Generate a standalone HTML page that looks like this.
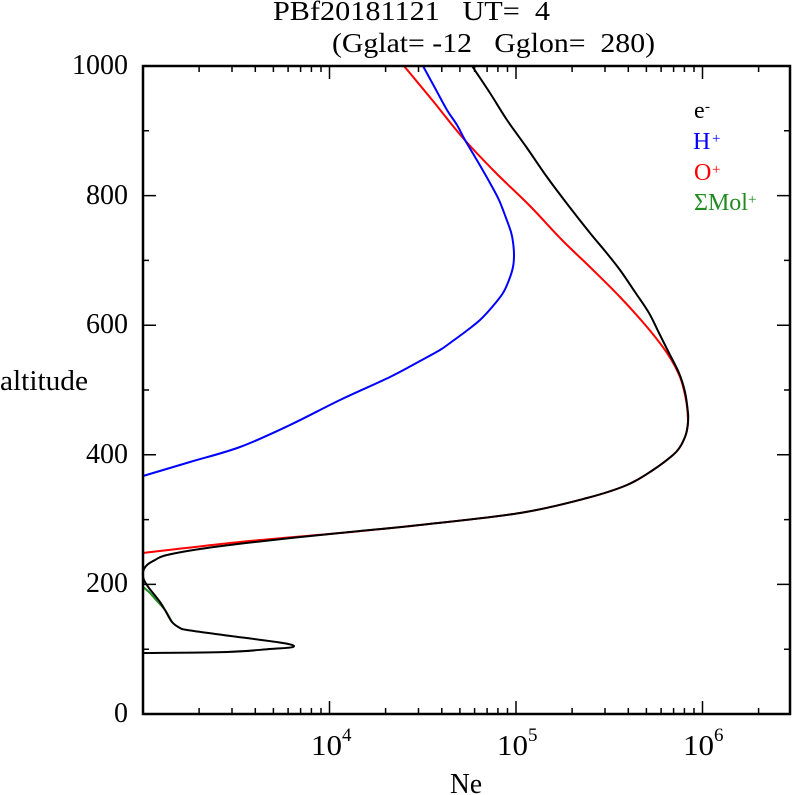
<!DOCTYPE html>
<html>
<head>
<meta charset="utf-8">
<style>
html,body{margin:0;padding:0;background:#fff;}
svg{display:block;}
text{font-family:"Liberation Serif","DejaVu Serif",serif;}
</style>
</head>
<body>
<svg id="chart" width="792" height="795" viewBox="0 0 792 795" xmlns="http://www.w3.org/2000/svg">
<rect width="792" height="795" fill="#fff"/>

<!-- Title -->
<text x="273" y="20" font-size="27" textLength="277" lengthAdjust="spacingAndGlyphs" xml:space="preserve">PBf20181121   UT=  4</text>
<text x="332" y="52" font-size="27" textLength="323" lengthAdjust="spacingAndGlyphs" xml:space="preserve">(Gglat= -12   Gglon=  280)</text>

<!-- Y labels -->
<g font-size="28" text-anchor="end">
<text x="128" y="74">1000</text>
<text x="128" y="204">800</text>
<text x="128" y="333">600</text>
<text x="128" y="463">400</text>
<text x="128" y="592">200</text>
<text x="128" y="722">0</text>
</g>
<text x="0" y="390" font-size="28" textLength="88" lengthAdjust="spacingAndGlyphs">altitude</text>

<!-- X labels -->
<g font-size="29">
<text x="311" y="755" textLength="31" lengthAdjust="spacingAndGlyphs">10</text>
<text x="497" y="755" textLength="31" lengthAdjust="spacingAndGlyphs">10</text>
<text x="683" y="755" textLength="31" lengthAdjust="spacingAndGlyphs">10</text>
</g>
<g font-size="19">
<text x="342" y="741">4</text>
<text x="528" y="741">5</text>
<text x="714" y="741">6</text>
</g>
<text x="450" y="793" font-size="28" textLength="32" lengthAdjust="spacingAndGlyphs">Ne</text>

<!-- Legend -->
<g font-size="24">
<text x="694" y="118" fill="#000">e</text>
<text x="705" y="111" font-size="15" fill="#000">-</text>
<text x="693" y="149" fill="#0000ff">H</text>
<text x="712" y="143" font-size="15" fill="#0000ff">+</text>
<text x="694" y="180" fill="#ff0000">O</text>
<text x="712" y="174" font-size="15" fill="#ff0000">+</text>
<text x="694" y="210" fill="#228b22">ΣMol</text>
<text x="748" y="204" font-size="15" fill="#228b22">+</text>
</g>

<!-- Ticks -->
<g stroke="#000" stroke-width="1.5" fill="none">
<path d="M329.5,714V701 M516,714V701 M702.5,714V701"/>
<path d="M329.5,66V79 M516,66V79 M702.5,66V79"/>
<path d="M199.1,714v-6 M232,714v-6 M255.3,714v-6 M273.4,714v-6 M288.1,714v-6 M300.6,714v-6 M311.4,714v-6 M321,714v-6
M385.6,714v-6 M418.5,714v-6 M441.8,714v-6 M459.9,714v-6 M474.6,714v-6 M487.1,714v-6 M497.9,714v-6 M507.5,714v-6
M572.1,714v-6 M605,714v-6 M628.3,714v-6 M646.4,714v-6 M661.1,714v-6 M673.6,714v-6 M684.4,714v-6 M694,714v-6
M758.6,714v-6"/>
<path d="M199.1,66v6 M232,66v6 M255.3,66v6 M273.4,66v6 M288.1,66v6 M300.6,66v6 M311.4,66v6 M321,66v6
M385.6,66v6 M418.5,66v6 M441.8,66v6 M459.9,66v6 M474.6,66v6 M487.1,66v6 M497.9,66v6 M507.5,66v6
M572.1,66v6 M605,66v6 M628.3,66v6 M646.4,66v6 M661.1,66v6 M673.6,66v6 M684.4,66v6 M694,66v6
M758.6,66v6"/>
<path d="M143,584.4h13 M143,454.8h13 M143,325.2h13 M143,195.6h13"/>
<path d="M143,649.2h6 M143,519.6h6 M143,390h6 M143,260.4h6 M143,130.8h6"/>
<path d="M790,584.4h-13 M790,454.8h-13 M790,325.2h-13 M790,195.6h-13"/>
<path d="M790,649.2h-6 M790,519.6h-6 M790,390h-6 M790,260.4h-6 M790,130.8h-6"/>
</g>

<!-- Curves -->
<g id="curves" fill="none" stroke-width="2" stroke-linejoin="round" stroke-linecap="round">
<polyline class="sm" stroke="#ff0000" points="404,66 433,101 463,138 495,172 530,206 562,240 592,269 620,297 647,327 667,353 680,377 686,400 688,420 687,430 685,437 680,447 673,455 653,470 627,485 587,498 520,513 420,525 340,533 240,542 143,553"/>
<polyline class="sm" stroke="#0000ff" points="423,66 435,88 447,110 457,125 465,140 478,162 490,183 499,200 506,218 511,232 513,242 514,255 513,267 509,280 503,293 493,306 480,320 465,332 450,343 440,350 420,361 390,377 340,400 290,425 240,447 190,462 143,476"/>
<polyline class="sm" stroke="#228b22" points="143,587 150,593 157,601 165,610 172,622"/>
<polyline class="sm" stroke="#000000" points="472,66 490,93 507,120 527,148 547,177 568,205 590,233 605,251 620,270 635,292 649,313 659,333 669,353 679,373 685,392 688,413 688,422 687,430 685,437 680,447 673,455 653,470 627,485 587,498 520,513 420,525 340,533 273,540 207,548 167,555 155,560 147,565 143,572 144,580 149,588 153,593 160,602 165,610 172,622 180,628 187,630 223,635 283,643 293,647 270,649 227,652 143,653"/>
</g>

<!-- Frame -->
<rect x="143" y="66" width="647" height="648" fill="none" stroke="#000" stroke-width="2.5"/>
</svg>
<script>
(function(){
  var ns="http://www.w3.org/2000/svg";
  var pls=document.querySelectorAll("polyline.sm");
  for(var k=0;k<pls.length;k++){
    var pl=pls[k];
    var raw=pl.getAttribute("points").trim().split(/\s+/);
    var p=raw.map(function(s){var a=s.split(",");return [parseFloat(a[0]),parseFloat(a[1])];});
    if(p.length<3) continue;
    var d="M"+p[0][0]+","+p[0][1];
    for(var i=0;i<p.length-1;i++){
      var p0=p[i>0?i-1:0],p1=p[i],p2=p[i+1],p3=p[i+2<p.length?i+2:p.length-1];
      var t=0.5/3;
      var c1x=p1[0]+(p2[0]-p0[0])*t, c1y=p1[1]+(p2[1]-p0[1])*t;
      var c2x=p2[0]-(p3[0]-p1[0])*t, c2y=p2[1]-(p3[1]-p1[1])*t;
      d+=" C"+c1x.toFixed(2)+","+c1y.toFixed(2)+" "+c2x.toFixed(2)+","+c2y.toFixed(2)+" "+p2[0]+","+p2[1];
    }
    var path=document.createElementNS(ns,"path");
    path.setAttribute("d",d);
    path.setAttribute("stroke",pl.getAttribute("stroke"));
    pl.parentNode.replaceChild(path,pl);
  }
})();
</script>
</body>
</html>
